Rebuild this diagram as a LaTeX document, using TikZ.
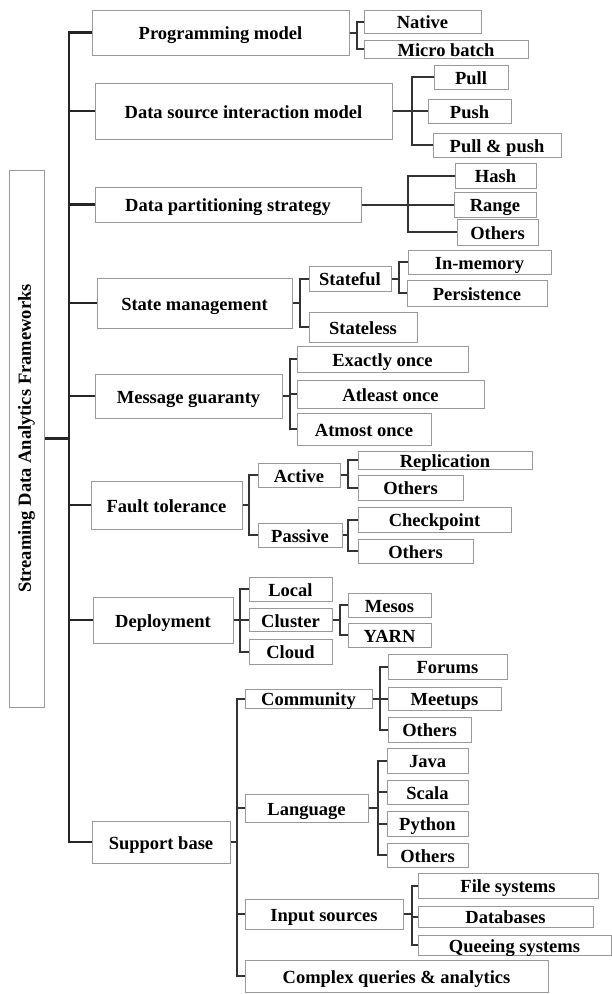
\documentclass[tikz,border=0pt]{standalone}
\usepackage{fontspec}
\setmainfont{Liberation Serif}
\usepackage{graphicx}
\usepackage{tikz}

\begin{document}
\begin{tikzpicture}[
    x=1pt, y=-1pt,
    frame/.style={rectangle, draw=black!40, line width=1pt, inner sep=0pt,
                  font=\fontsize{18.5}{20}\selectfont\bfseries, align=center},
    box/.style={frame, text height=14pt, text depth=0pt},
    link/.style={draw=black!80, line width=2pt},
    trunkline/.style={draw=black!85, line width=2.6pt},
]
\useasboundingbox (0,0) rectangle (612,994);

% ============== root ==============
\node[frame, minimum width=35pt, minimum height=537pt] (root) at (26.5,438.5)
    {\rotatebox{90}{Streaming Data Analytics Frameworks}};

% ============== first level ==============
\node[box, minimum width=257pt, minimum height=45pt] (pm) at (220.5,32.5) {Programming model};
\node[box, minimum width=297pt, minimum height=56pt] (dsi) at (243.5,111) {Data source interaction model};
\node[box, minimum width=266pt, minimum height=35pt] (dps) at (228,204.5) {Data partitioning strategy};
\node[box, minimum width=195pt, minimum height=50pt] (sm) at (194.5,303) {State management};
\node[box, minimum width=187pt, minimum height=44pt] (mg) at (188.5,396) {Message guaranty};
\node[box, minimum width=151pt, minimum height=48pt] (ft) at (166.5,505) {Fault tolerance};
\node[box, minimum width=140pt, minimum height=46pt] (dep) at (163,620) {Deployment};
\node[box, minimum width=138pt, minimum height=42pt] (sb) at (161,842) {Support base};

\coordinate (trunk) at (69,438.5);
\draw[trunkline] (root.east) -- (trunk);
\draw[trunkline] (trunk) |- (pm.west);
\draw[trunkline] (trunk) |- (dsi.west);
\draw[trunkline] (trunk) |- (dps.west);
\draw[trunkline] (trunk) |- (sm.west);
\draw[trunkline] (trunk) |- (mg.west);
\draw[trunkline] (trunk) |- (ft.west);
\draw[trunkline] (trunk) |- (dep.west);
\draw[trunkline] (trunk) |- (sb.west);

% ============== programming model ==============
\node[box, minimum width=117pt, minimum height=23pt] (native) at (422.5,21.5) {Native};
\node[box, minimum width=164pt, minimum height=18pt] (micro) at (446,49) {Micro batch};
\coordinate (pmj) at (357,32.5);
\draw[link] (pm.east) -- (pmj);
\draw[link] (pmj) |- (native.west);
\draw[link] (pmj) |- (micro.west);

% ============== data source interaction ==============
\node[box, minimum width=74pt, minimum height=24pt] (pull) at (471,77) {Pull};
\node[box, minimum width=83pt, minimum height=24pt] (push) at (469.5,111) {Push};
\node[box, minimum width=128pt, minimum height=24pt] (pullpush) at (497,145) {Pull \& push};
\coordinate (dsij) at (412,111);
\draw[link] (dsi.east) -- (dsij);
\draw[link] (dsij) |- (pull.west);
\draw[link] (dsij) |- (push.west);
\draw[link] (dsij) |- (pullpush.west);

% ============== data partitioning ==============
\node[box, minimum width=81pt, minimum height=25pt] (hash) at (495.5,175.5) {Hash};
\node[box, minimum width=82pt, minimum height=25pt] (range) at (495,204.5) {Range};
\node[box, minimum width=81pt, minimum height=26pt] (othpart) at (497.5,232) {Others};
\coordinate (dpsj) at (408,204.5);
\draw[link] (dps.east) -- (dpsj);
\draw[link] (dpsj) |- (hash.west);
\draw[link] (dpsj) |- (range.west);
\draw[link] (dpsj) |- (othpart.west);

% ============== state management ==============
\node[box, minimum width=82pt, minimum height=25pt] (stateful) at (350,278.5) {Stateful};
\node[box, minimum width=108pt, minimum height=30pt] (stateless) at (363,327) {Stateless};
\node[box, minimum width=143pt, minimum height=24pt] (inmem) at (479.5,262) {In-memory};
\node[box, minimum width=140pt, minimum height=26pt] (persist) at (477,293) {Persistence};
\coordinate (smj) at (300,303);
\draw[link] (sm.east) -- (smj);
\draw[link] (smj) |- (stateful.west);
\draw[link] (smj) |- (stateless.west);
\coordinate (sfj) at (399,278.5);
\draw[link] (stateful.east) -- (sfj);
\draw[link] (sfj) |- (inmem.west);
\draw[link] (sfj) |- (persist.west);

% ============== message guaranty ==============
\node[box, minimum width=171pt, minimum height=26pt] (exactly) at (382.5,359) {Exactly once};
\node[box, minimum width=187pt, minimum height=28pt] (atleast) at (390.5,394) {Atleast once};
\node[box, minimum width=134pt, minimum height=32pt] (atmost) at (364,429) {Atmost once};
\coordinate (mgj) at (290,396);
\draw[link] (mg.east) -- (mgj);
\draw[link] (mgj) |- (exactly.west);
\draw[link] (mgj) |- (atleast.west);
\draw[link] (mgj) |- (atmost.west);

% ============== fault tolerance ==============
\node[box, minimum width=82pt, minimum height=24pt] (active) at (299,475) {Active};
\node[box, minimum width=84pt, minimum height=24pt] (passive) at (300,535) {Passive};
\node[box, minimum width=174pt, minimum height=18pt] (repl) at (445,460) {Replication};
\node[box, minimum width=105pt, minimum height=25pt] (othact) at (410.5,487.5) {Others};
\node[box, minimum width=153pt, minimum height=25pt] (ckpt) at (434.5,519.5) {Checkpoint};
\node[box, minimum width=115pt, minimum height=24pt] (othpas) at (415.5,551) {Others};
\coordinate (ftj) at (249,505);
\draw[link] (ft.east) -- (ftj);
\draw[link] (ftj) |- (active.west);
\draw[link] (ftj) |- (passive.west);
\coordinate (actj) at (348,475);
\draw[link] (active.east) -- (actj);
\draw[link] (actj) |- (repl.west);
\draw[link] (actj) |- (othact.west);
\coordinate (pasj) at (348,535);
\draw[link] (passive.east) -- (pasj);
\draw[link] (pasj) |- (ckpt.west);
\draw[link] (pasj) |- (othpas.west);

% ============== deployment ==============
\node[box, minimum width=83pt, minimum height=24pt] (local) at (290.5,589) {Local};
\node[box, minimum width=83pt, minimum height=23pt] (cluster) at (290.5,620) {Cluster};
\node[box, minimum width=83pt, minimum height=25pt] (cloud) at (290.5,651.5) {Cloud};
\node[box, minimum width=83pt, minimum height=24pt] (mesos) at (389.5,605) {Mesos};
\node[box, minimum width=83pt, minimum height=24pt] (yarn) at (389.5,635) {YARN};
\coordinate (depj) at (240,620);
\draw[link] (dep.east) -- (depj);
\draw[link] (depj) |- (local.west);
\draw[link] (depj) |- (cluster.west);
\draw[link] (depj) |- (cloud.west);
\coordinate (clj) at (340,620);
\draw[link] (cluster.east) -- (clj);
\draw[link] (clj) |- (mesos.west);
\draw[link] (clj) |- (yarn.west);

% ============== support base ==============
\node[box, minimum width=127pt, minimum height=19pt] (comm) at (308.5,698.5) {Community};
\node[box, minimum width=123pt, minimum height=28pt] (lang) at (306.5,808) {Language};
\node[box, minimum width=158pt, minimum height=30pt] (input) at (324,914) {Input sources};
\node[box, minimum width=303pt, minimum height=32pt] (complex) at (396.5,976) {Complex queries \& analytics};
\coordinate (sbj) at (237,842);
\draw[link] (sb.east) -- (sbj);
\draw[link] (sbj) |- (comm.west);
\draw[link] (sbj) |- (lang.west);
\draw[link] (sbj) |- (input.west);
\draw[link] (sbj) |- (complex.west);

\node[box, minimum width=119pt, minimum height=25pt] (forums) at (447.5,666.5) {Forums};
\node[box, minimum width=113pt, minimum height=23pt] (meetups) at (444.5,698.5) {Meetups};
\node[box, minimum width=83pt, minimum height=25pt] (othcomm) at (429.5,729.5) {Others};
\coordinate (commj) at (380,698.5);
\draw[link] (comm.east) -- (commj);
\draw[link] (commj) |- (forums.west);
\draw[link] (commj) |- (meetups.west);
\draw[link] (commj) |- (othcomm.west);

\node[box, minimum width=81pt, minimum height=25pt] (java) at (427.5,760.5) {Java};
\node[box, minimum width=81pt, minimum height=24pt] (scala) at (427.5,792) {Scala};
\node[box, minimum width=81pt, minimum height=25pt] (python) at (427.5,823.5) {Python};
\node[box, minimum width=81pt, minimum height=24pt] (othlang) at (427.5,855) {Others};
\coordinate (langj) at (378,808);
\draw[link] (lang.east) -- (langj);
\draw[link] (langj) |- (java.west);
\draw[link] (langj) |- (scala.west);
\draw[link] (langj) |- (python.west);
\draw[link] (langj) |- (othlang.west);

\node[box, minimum width=180pt, minimum height=25pt] (files) at (508,885.5) {File systems};
\node[box, minimum width=175pt, minimum height=21pt] (dbs) at (505.5,916.5) {Databases};
\node[box, minimum width=193pt, minimum height=20pt] (queue) at (514.5,945) {Queeing systems};
\coordinate (inj) at (412,914);
\draw[link] (input.east) -- (inj);
\draw[link] (inj) |- (files.west);
\draw[link] (inj) |- (dbs.west);
\draw[link] (inj) |- (queue.west);

\end{tikzpicture}
\end{document}
